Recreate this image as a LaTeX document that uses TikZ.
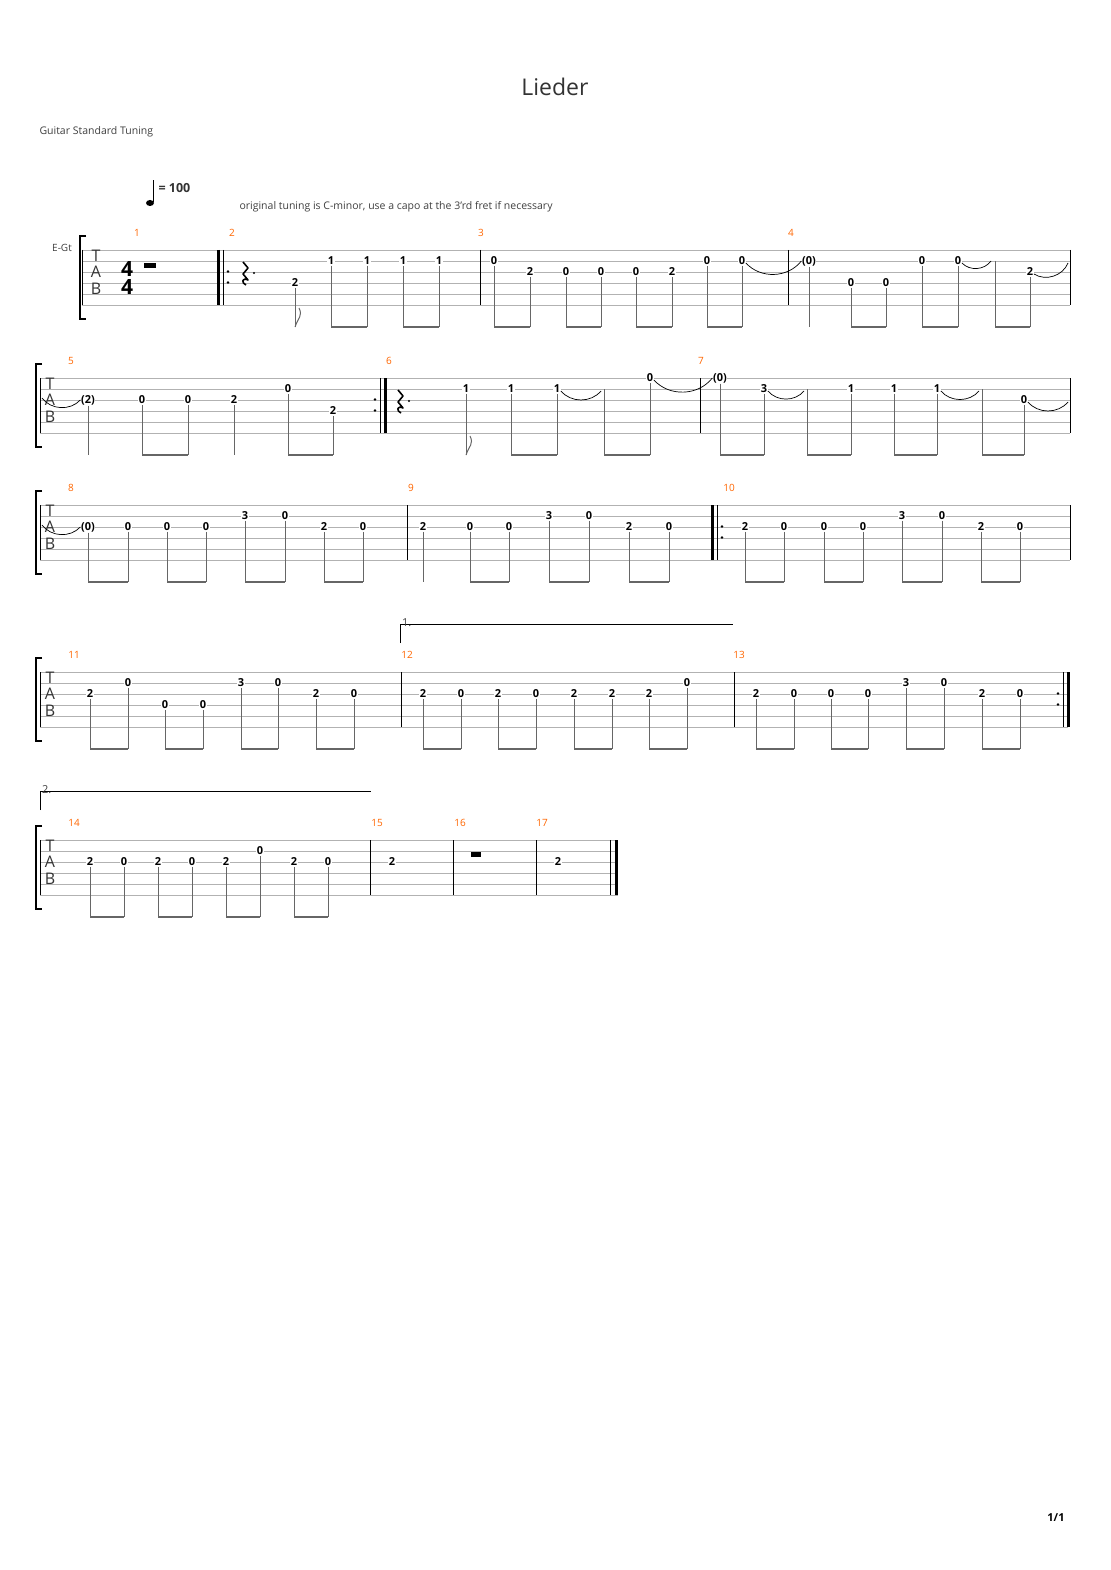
\documentclass[tikz,border=0pt]{standalone}
\usepackage{fontspec}
\setmainfont{Open Sans}
\usetikzlibrary{positioning,calc}

\tikzset{
  fret/.style={fill=white,inner sep=0.6pt,font=\fontsize{11}{11}\selectfont\bfseries},
  stem/.style={line width=0.7pt,draw=black!60},
  beam/.style={line width=2.4pt,draw=black!60},
  staffline/.style={draw=black!30,line width=0.6pt},
  bar/.style={draw=black,line width=0.8pt},
  thickbar/.style={draw=black,line width=3pt},
  tiearc/.style={line width=0.7pt},
  bracket/.style={line width=2.4pt},
  mnum/.style={text=orange!80!red,font=\fontsize{10}{10}\selectfont},
  tabclef/.style={font=\fontsize{16}{16}\selectfont,inner sep=0pt,text=black!80},
  timesig/.style={font=\fontsize{21}{21}\selectfont\bfseries,inner sep=0pt,text height=15pt,text depth=0pt},
}
\def\by{77}
% note with number and stem
\newcommand\nt[4]{\node[fret] (#1) at (#2,{11*(#3-1)}) {#4};
  \draw[stem] (#1.south) -- (#2,\by);}
% stem of a tied note, no number
\newcommand\tn[3]{\coordinate (#1) at (#2,{11*(#3-1)});
  \draw[stem] (#1) -- (#2,\by);}
\newcommand\bm[2]{\draw[beam] (#1 |- 0,\by) -- (#2 |- 0,\by);}
\newcommand\ti[2]{\draw[tiearc] ($(#1.east)+(0,2)$) to[bend right=50] (#2);}
\newcommand\flag[1]{\draw[stem,line width=1pt] (#1,\by) .. controls (#1+3,68) and (#1+8,66) .. (#1+4,58);}
\newcommand\staff[2]{\foreach \i in {0,...,5} \draw[staffline] (#1,11*\i) -- (#2,11*\i);}
\newcommand\clef[1]{\node[tabclef] (T) at (#1,6) {T}; \node[tabclef] (A) at (#1,22) {A}; \node[tabclef] (B) at (#1,39) {B};}
\newcommand\brk[1]{\draw[bracket] (#1+6,-14) -- (#1,-14) -- (#1,69) -- (#1+6,69);}
\newcommand\qrest[1]{\draw[line width=1.6pt,line join=round] (#1-2,12) -- (#1+3,18) -- (#1-2,24) -- (#1+3,30)
  .. controls (#1-3,27) and (#1-4,33) .. (#1+1,35); \fill (#1+9,23) circle (1.2pt);}
\newcommand\rdots[1]{\fill (#1,21.5) circle (1.4pt); \fill (#1,32.5) circle (1.4pt);}

\begin{document}
\begin{tikzpicture}[x=1pt,y=-1pt]
\useasboundingbox[fill=white] (0,0) rectangle (1110,1570);

\node[font=\fontsize{23}{23}\selectfont,text=black!80] (title) at (555,87) {Lieder};
\node[anchor=west,font=\fontsize{10.5}{10.5}\selectfont,text=black!75] (tuning) at (36,132) {Guitar Standard Tuning};
\fill (150,203) ellipse (4pt and 3pt);
\draw[line width=0.8pt] (153.5,202) -- (153.5,180);
\node[anchor=west,font=\fontsize{12.5}{12.5}\selectfont\bfseries,text=black!80] (tempo) at (155,188) {= 100};
\node[anchor=west,font=\fontsize{10.5}{10.5}\selectfont,text=black!75] (remark) at (236,207) {original tuning is C-minor, use a capo at the 3'rd fret if necessary};
\node[font=\fontsize{10}{10}\selectfont,text=black!75] (egt) at (62,248) {E-Gt};
\node[font=\fontsize{11}{11}\selectfont\bfseries] (page) at (1056,1518) {1/1};

%System 1
\begin{scope}[shift={(0,250)}]
\staff{82}{1070}
\brk{80}
\clef{96}
\node[timesig] (ts1) at (127,19) {4};
\node[timesig] (ts2) at (127,37) {4};
\fill (144,13) rectangle (156,18);
\draw[bar] (82,0) -- (82,55);
\draw[thickbar] (218,0) -- (218,55); \draw[bar] (223,0) -- (223,55); \rdots{228}
\draw[bar] (480,0) -- (480,55); \draw[bar] (788,0) -- (788,55); \draw[bar] (1070,0) -- (1070,55);
\foreach \x/\m in {137/1,232/2,481/3,791/4} \node[mnum] at (\x,-17) {\m};
\qrest{245}
\nt{a1}{295}{4}{2} \flag{295}
\nt{a2}{331}{2}{1} \nt{a3}{367}{2}{1} \bm{a2}{a3}
\nt{a4}{403}{2}{1} \nt{a5}{439}{2}{1} \bm{a4}{a5}
\nt{b1}{494}{2}{0} \nt{b2}{530}{3}{2} \bm{b1}{b2}
\nt{b3}{566}{3}{0} \nt{b4}{601}{3}{0} \bm{b3}{b4}
\nt{b5}{636}{3}{0} \nt{b6}{672}{3}{2} \bm{b5}{b6}
\nt{b7}{707}{2}{0} \nt{b8}{742}{2}{0} \bm{b7}{b8}
\nt{c1}{809}{2}{(0)}
\ti{b8}{c1.west}
\nt{c2}{851}{4}{0} \nt{c3}{886}{4}{0} \bm{c2}{c3}
\nt{c4}{922}{2}{0} \nt{c5}{958}{2}{0} \bm{c4}{c5}
\tn{c6}{995}{2} \nt{c7}{1030}{3}{2} \bm{c6}{c7}
\ti{c5}{$(c6)+(-4,0)$}
\coordinate (e1) at (1068,13);
\ti{c7}{e1}
\end{scope}

%System 2
\begin{scope}[shift={(0,378)}]
\staff{40}{1070}
\brk{36}
\clef{50}
\draw[bar] (40,0) -- (40,55);
\rdots{375} \draw[bar] (380,0) -- (380,55); \draw[thickbar] (385,0) -- (385,55);
\draw[bar] (700,0) -- (700,55); \draw[bar] (1070,0) -- (1070,55);
\foreach \x/\m in {71/5,389/6,701/7} \node[mnum] at (\x,-17) {\m};
\nt{d1}{88}{3}{(2)}
\coordinate (s2) at (42,20);
\draw[tiearc] (s2) to[bend right=50] (d1.west);
\nt{d2}{142}{3}{0} \nt{d3}{188}{3}{0} \bm{d2}{d3}
\nt{d4}{234}{3}{2}
\nt{d5}{288}{2}{0} \nt{d6}{333}{4}{2} \bm{d5}{d6}
\qrest{400}
\nt{f1}{466}{2}{1} \flag{466}
\nt{f2}{511}{2}{1} \nt{f3}{557}{2}{1} \bm{f2}{f3}
\tn{f4}{604}{2} \nt{f5}{650}{1}{0} \bm{f4}{f5}
\ti{f3}{$(f4)+(-3,2)$}
\nt{g1}{720}{1}{(0)}
\ti{f5}{g1.west}
\nt{g2}{764}{2}{3} \bm{g1}{g2}
\tn{g3}{807}{2} \nt{g4}{851}{2}{1} \bm{g3}{g4}
\ti{g2}{$(g3)+(-3,2)$}
\nt{g5}{894}{2}{1} \nt{g6}{937}{2}{1} \bm{g5}{g6}
\tn{g7}{982}{2} \nt{g8}{1024}{3}{0} \bm{g7}{g8}
\ti{g6}{$(g7)+(-3,2)$}
\coordinate (e2) at (1068,24);
\ti{g8}{e2}
\end{scope}

%System 3
\begin{scope}[shift={(0,505)}]
\staff{40}{1070}
\brk{36}
\clef{50}
\draw[bar] (40,0) -- (40,55); \draw[bar] (407,0) -- (407,55);
\draw[thickbar] (712,0) -- (712,55); \draw[bar] (717,0) -- (717,55); \rdots{722}
\draw[bar] (1070,0) -- (1070,55);
\foreach \x/\m in {71/8,411/9,729/10} \node[mnum] at (\x,-17) {\m};
\nt{h1}{88}{3}{(0)} \nt{h2}{128}{3}{0} \bm{h1}{h2}
\coordinate (s3) at (42,20);
\draw[tiearc] (s3) to[bend right=50] (h1.west);
\nt{h3}{167}{3}{0} \nt{h4}{206}{3}{0} \bm{h3}{h4}
\nt{h5}{245}{2}{3} \nt{h6}{285}{2}{0} \bm{h5}{h6}
\nt{h7}{324}{3}{2} \nt{h8}{363}{3}{0} \bm{h7}{h8}
\nt{i1}{423}{3}{2}
\nt{i2}{470}{3}{0} \nt{i3}{509}{3}{0} \bm{i2}{i3}
\nt{i4}{549}{2}{3} \nt{i5}{589}{2}{0} \bm{i4}{i5}
\nt{i6}{629}{3}{2} \nt{i7}{669}{3}{0} \bm{i6}{i7}
\nt{j1}{745}{3}{2} \nt{j2}{784}{3}{0} \bm{j1}{j2}
\nt{j3}{824}{3}{0} \nt{j4}{863}{3}{0} \bm{j3}{j4}
\nt{j5}{902}{2}{3} \nt{j6}{942}{2}{0} \bm{j5}{j6}
\nt{j7}{981}{3}{2} \nt{j8}{1020}{3}{0} \bm{j7}{j8}
\end{scope}

%Volta 1
\draw[line width=0.6pt] (400,643) -- (400,624) -- (733,624);
\node[anchor=west,font=\fontsize{11}{11}\selectfont,inner sep=1pt,text=black!75] (v1) at (401,623) {1.};

%System 4
\begin{scope}[shift={(0,672)}]
\staff{40}{1068}
\brk{36}
\clef{50}
\draw[bar] (40,0) -- (40,55); \draw[bar] (401,0) -- (401,55); \draw[bar] (734,0) -- (734,55);
\rdots{1058} \draw[bar] (1063,0) -- (1063,55); \draw[thickbar] (1068,0) -- (1068,55);
\foreach \x/\m in {74/11,407/12,739/13} \node[mnum] at (\x,-17) {\m};
\nt{k1}{90}{3}{2} \nt{k2}{128}{2}{0} \bm{k1}{k2}
\nt{k3}{165}{4}{0} \nt{k4}{203}{4}{0} \bm{k3}{k4}
\nt{k5}{241}{2}{3} \nt{k6}{278}{2}{0} \bm{k5}{k6}
\nt{k7}{316}{3}{2} \nt{k8}{354}{3}{0} \bm{k7}{k8}
\nt{l1}{423}{3}{2} \nt{l2}{461}{3}{0} \bm{l1}{l2}
\nt{l3}{498}{3}{2} \nt{l4}{536}{3}{0} \bm{l3}{l4}
\nt{l5}{574}{3}{2} \nt{l6}{612}{3}{2} \bm{l5}{l6}
\nt{l7}{649}{3}{2} \nt{l8}{687}{2}{0} \bm{l7}{l8}
\nt{m1}{756}{3}{2} \nt{m2}{794}{3}{0} \bm{m1}{m2}
\nt{m3}{831}{3}{0} \nt{m4}{868}{3}{0} \bm{m3}{m4}
\nt{m5}{906}{2}{3} \nt{m6}{944}{2}{0} \bm{m5}{m6}
\nt{m7}{982}{3}{2} \nt{m8}{1020}{3}{0} \bm{m7}{m8}
\end{scope}

%Volta 2
\draw[line width=0.6pt] (40,810) -- (40,791) -- (371,791);
\node[anchor=west,font=\fontsize{11}{11}\selectfont,inner sep=1pt,text=black!75] (v2) at (41,790) {2.};

%System 5
\begin{scope}[shift={(0,840)}]
\staff{40}{618}
\brk{36}
\clef{50}
\draw[bar] (40,0) -- (40,55); \draw[bar] (370,0) -- (370,55); \draw[bar] (453,0) -- (453,55);
\draw[bar] (536,0) -- (536,55); \draw[bar] (610,0) -- (610,55); \draw[thickbar] (616,0) -- (616,55);
\foreach \x/\m in {74/14,377/15,460/16,542/17} \node[mnum] at (\x,-17) {\m};
\nt{n1}{90}{3}{2} \nt{n2}{124}{3}{0} \bm{n1}{n2}
\nt{n3}{158}{3}{2} \nt{n4}{192}{3}{0} \bm{n3}{n4}
\nt{n5}{226}{3}{2} \nt{n6}{260}{2}{0} \bm{n5}{n6}
\nt{n7}{294}{3}{2} \nt{n8}{328}{3}{0} \bm{n7}{n8}
\node[fret] (o1) at (392,22) {2};
\fill (471,12) rectangle (481,17);
\node[fret] (p1) at (558,22) {2};
\end{scope}
\end{tikzpicture}
\end{document}
